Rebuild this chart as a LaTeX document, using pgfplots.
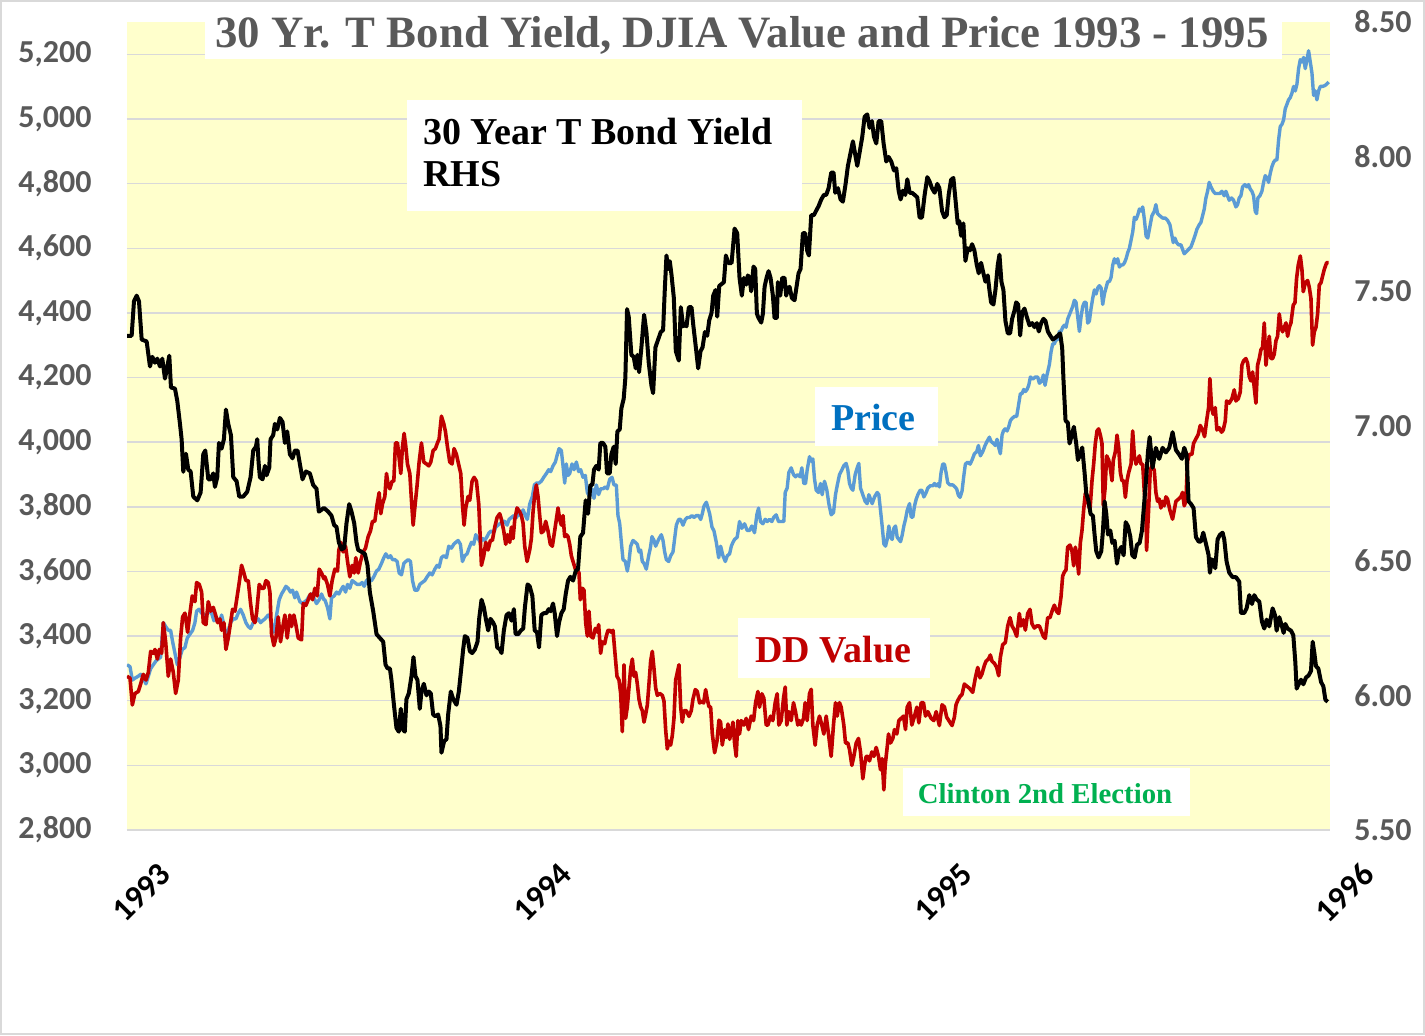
\documentclass[border=0pt]{standalone}
\usepackage{fontspec}
\setmainfont{Liberation Serif}
\newfontfamily\carlito{Carlito}
\usepackage{pgfplots}
\pgfplotsset{compat=1.18}
\definecolor{plotbg}{HTML}{FFFFCC}
\definecolor{gridc}{HTML}{D9D9D9}
\definecolor{tickgray}{HTML}{595959}
\definecolor{bluel}{HTML}{5B9BD5}
\definecolor{redl}{HTML}{C00000}
\definecolor{pricebl}{HTML}{0070C0}
\definecolor{greent}{HTML}{00B050}
\newcommand\ticfont{\carlito\bfseries\fontsize{16}{18}\selectfont}
\newcommand\xticfont{\carlito\bfseries\fontsize{16.5}{18}\selectfont}
\begin{document}
\begin{tikzpicture}
\path[use as bounding box, fill=white] (-63.5pt,-102.5pt) rectangle (649pt,415pt);
\draw[gridc, line width=1pt] (-63pt,-102pt) rectangle (648.5pt,414.5pt);
\begin{axis}[
  at={(0,0)}, anchor=south west,
  scale only axis, width=601.5pt, height=404pt,
  xmin=1993, xmax=1996, ymin=2800, ymax=5300,
  axis background/.style={fill=plotbg},
  axis line style={draw=none},
  major tick length=0pt,
  xtick={1993,1994,1995,1996}, xticklabels={1993,1994,1995,1996},
  ytick={2800,3000,3200,3400,3600,3800,4000,4200,4400,4600,4800,5000,5200},
  ymajorgrids, grid style={gridc, line width=0.7pt},
  scaled y ticks=false,
  /pgf/number format/assume math mode=true,
  yticklabel style={font=\ticfont, text=tickgray, xshift=-14.2pt},
  xticklabel style={font=\xticfont, text=black, rotate=45, anchor=center, xshift=-17pt, yshift=-27.2pt},
]
% Price (blue)
\addplot[bluel, line width=1.7pt, line join=round] coordinates {
(1993.0000,3311.3) (1993.0075,3305.4) (1993.0133,3263.9) (1993.0199,3269.9) (1993.0282,3275.8) (1993.0341,3281.7) (1993.0407,3269.9) (1993.0473,3252.1) (1993.0532,3275.8) (1993.0590,3299.4) (1993.0656,3311.3) (1993.0723,3323.1) (1993.0781,3329.0) (1993.0839,3334.9) (1993.0905,3441.5) (1993.0964,3429.6) (1993.1030,3417.8) (1993.1088,3417.8) (1993.1138,3382.3) (1993.1196,3346.8) (1993.1255,3311.3) (1993.1321,3334.9) (1993.1379,3358.6) (1993.1445,3364.5) (1993.1503,3394.1) (1993.1570,3405.9) (1993.1636,3417.8) (1993.1694,3441.5) (1993.1736,3477.0) (1993.1794,3482.9) (1993.1861,3471.0) (1993.1919,3465.1) (1993.1985,3465.1) (1993.2052,3477.0) (1993.2110,3471.0) (1993.2168,3447.4) (1993.2234,3453.3) (1993.2301,3441.5) (1993.2359,3465.1) (1993.2417,3435.5) (1993.2467,3394.1) (1993.2525,3417.8) (1993.2583,3441.5) (1993.2650,3453.3) (1993.2716,3453.3) (1993.2774,3471.0) (1993.2832,3482.9) (1993.2899,3465.1) (1993.2965,3441.5) (1993.3024,3429.6) (1993.3082,3423.7) (1993.3148,3441.5) (1993.3215,3447.4) (1993.3273,3453.3) (1993.3331,3441.5) (1993.3381,3447.4) (1993.3439,3453.3) (1993.3481,3459.2) (1993.3522,3465.1) (1993.3564,3459.2) (1993.3605,3435.5) (1993.3663,3411.9) (1993.3730,3465.1) (1993.3796,3512.5) (1993.3854,3530.2) (1993.3912,3542.0) (1993.3962,3553.9) (1993.4020,3548.0) (1993.4078,3536.1) (1993.4128,3542.0) (1993.4186,3518.4) (1993.4228,3536.1) (1993.4311,3506.5) (1993.4377,3500.6) (1993.4436,3506.5) (1993.4494,3512.5) (1993.4544,3524.3) (1993.4602,3530.2) (1993.4660,3518.4) (1993.4726,3500.6) (1993.4793,3512.5) (1993.4851,3530.2) (1993.4909,3512.5)
(1993.4934,3512.5) (1993.5000,3488.8) (1993.5059,3453.3) (1993.5100,3518.4) (1993.5166,3524.3) (1993.5225,3536.1) (1993.5283,3530.2) (1993.5333,3542.0) (1993.5391,3553.9) (1993.5450,3536.1) (1993.5500,3559.8) (1993.5557,3548.0) (1993.5615,3571.6) (1993.5681,3565.7) (1993.5740,3559.8) (1993.5806,3559.8) (1993.5865,3565.7) (1993.5915,3553.9) (1993.5972,3571.6) (1993.6031,3577.5) (1993.6097,3571.6) (1993.6155,3583.5) (1993.6222,3601.2) (1993.6280,3607.1) (1993.6346,3624.9) (1993.6405,3642.6) (1993.6455,3654.5) (1993.6513,3642.6) (1993.6571,3648.5) (1993.6621,3636.7) (1993.6679,3636.7) (1993.6737,3630.8) (1993.6787,3595.3) (1993.6845,3589.4) (1993.6904,3624.9) (1993.6953,3630.8) (1993.7012,3636.7) (1993.7070,3630.8) (1993.7120,3571.6) (1993.7177,3542.0) (1993.7244,3542.0) (1993.7302,3559.8) (1993.7360,3565.7) (1993.7426,3571.6) (1993.7485,3583.5) (1993.7551,3595.3) (1993.7609,3589.4) (1993.7676,3607.1) (1993.7734,3618.9) (1993.7784,3613.0) (1993.7841,3642.6) (1993.7900,3648.5) (1993.7966,3642.6) (1993.8024,3678.1) (1993.8091,3672.2) (1993.8149,3684.1) (1993.8199,3690.0) (1993.8257,3695.9) (1993.8315,3684.1) (1993.8365,3630.8) (1993.8423,3648.5) (1993.8481,3654.5) (1993.8531,3672.2) (1993.8589,3690.0) (1993.8647,3684.1) (1993.8697,3713.7) (1993.8755,3701.8) (1993.8813,3690.0) (1993.8863,3701.8) (1993.8921,3695.9) (1993.8979,3707.7) (1993.9029,3719.6) (1993.9087,3725.5) (1993.9146,3719.6) (1993.9196,3737.3) (1993.9254,3743.2) (1993.9312,3749.1) (1993.9362,3755.1) (1993.9420,3755.1) (1993.9478,3743.2) (1993.9528,3760.9) (1993.9586,3766.9) (1993.9644,3772.8) (1993.9710,3766.9) (1993.9768,3778.7) (1993.9818,3772.8) (1993.9877,3790.6) (1993.9934,3772.8) (1993.9984,3760.9)
(1994.0042,3808.3) (1994.0109,3832.0) (1994.0159,3867.5) (1994.0209,3873.4) (1994.0275,3873.4) (1994.0333,3879.3) (1994.0391,3891.1) (1994.0458,3903.0) (1994.0516,3914.8) (1994.0566,3908.9) (1994.0624,3926.7) (1994.0682,3938.5) (1994.0732,3962.2) (1994.0774,3979.9) (1994.0832,3974.0) (1994.0873,3926.7) (1994.0915,3873.4) (1994.0956,3932.6) (1994.0998,3897.0) (1994.1040,3903.0) (1994.1098,3932.6) (1994.1148,3914.8) (1994.1206,3938.5) (1994.1264,3908.9) (1994.1314,3914.8) (1994.1372,3891.1) (1994.1430,3897.0) (1994.1480,3843.8) (1994.1538,3832.0) (1994.1596,3855.7) (1994.1646,3826.1) (1994.1704,3867.5) (1994.1762,3837.9) (1994.1812,3855.7) (1994.1870,3855.7) (1994.1929,3861.6) (1994.1978,3855.7) (1994.2037,3885.2) (1994.2095,3891.1) (1994.2145,3867.5) (1994.2203,3867.5) (1994.2244,3772.8) (1994.2286,3749.1) (1994.2328,3690.0) (1994.2369,3636.7) (1994.2427,3630.8) (1994.2477,3601.2) (1994.2518,3630.8) (1994.2560,3678.1) (1994.2618,3695.9) (1994.2676,3690.0) (1994.2726,3684.1) (1994.2768,3660.4) (1994.2809,3666.3) (1994.2851,3630.8) (1994.2893,3624.9) (1994.2951,3607.1) (1994.3009,3648.5) (1994.3051,3672.2) (1994.3092,3707.7) (1994.3142,3695.9) (1994.3183,3678.1) (1994.3225,3690.0) (1994.3267,3701.8) (1994.3325,3713.6) (1994.3367,3695.9) (1994.3408,3660.4) (1994.3450,3636.7) (1994.3508,3630.8) (1994.3558,3648.5) (1994.3616,3660.4) (1994.3657,3701.8) (1994.3699,3743.2) (1994.3757,3760.9) (1994.3807,3760.9) (1994.3865,3743.2) (1994.3923,3760.9) (1994.3973,3766.9) (1994.4031,3766.9) (1994.4089,3772.8) (1994.4139,3766.9) (1994.4197,3772.8) (1994.4256,3772.8) (1994.4306,3760.9) (1994.4347,3778.7) (1994.4389,3802.4) (1994.4447,3814.2) (1994.4489,3796.5) (1994.4530,3778.7) (1994.4588,3737.3) (1994.4638,3725.5) (1994.4696,3690.0) (1994.4755,3642.6) (1994.4804,3678.1) (1994.4862,3648.5) (1994.4921,3630.8) (1994.4970,3648.5) (1994.5028,3654.5) (1994.5070,3678.1) (1994.5111,3690.0)
(1994.5151,3699.0) (1994.5217,3706.0) (1994.5275,3754.4) (1994.5333,3733.6) (1994.5400,3747.5) (1994.5466,3726.7) (1994.5525,3726.7) (1994.5583,3740.6) (1994.5649,3719.8) (1994.5707,3775.2) (1994.5749,3795.9) (1994.5799,3754.4) (1994.5857,3747.5) (1994.5915,3761.3) (1994.5965,3754.4) (1994.6023,3761.3) (1994.6081,3754.4) (1994.6131,3768.2) (1994.6189,3775.2) (1994.6247,3754.4) (1994.6314,3754.4) (1994.6380,3754.4) (1994.6414,3844.4) (1994.6463,3858.2) (1994.6505,3906.6) (1994.6563,3920.5) (1994.6621,3899.7) (1994.6671,3892.8) (1994.6729,3899.7) (1994.6787,3892.8) (1994.6829,3920.5) (1994.6879,3872.0) (1994.6921,3872.0) (1994.6962,3913.6) (1994.7020,3955.1) (1994.7062,3941.2) (1994.7103,3948.2) (1994.7145,3885.9) (1994.7187,3851.3) (1994.7245,3844.4) (1994.7295,3872.0) (1994.7336,3837.4) (1994.7394,3878.9) (1994.7453,3851.3) (1994.7502,3809.8) (1994.7561,3775.2) (1994.7619,3782.1) (1994.7668,3837.4) (1994.7710,3865.1) (1994.7768,3899.7) (1994.7826,3913.6) (1994.7876,3927.4) (1994.7934,3934.3) (1994.7976,3913.6) (1994.8018,3872.0) (1994.8059,3858.2) (1994.8101,3851.3) (1994.8159,3899.7) (1994.8209,3920.5) (1994.8250,3934.3) (1994.8292,3858.2) (1994.8350,3837.4) (1994.8408,3816.7) (1994.8458,3809.8) (1994.8500,3837.4) (1994.8542,3823.6) (1994.8583,3809.8) (1994.8641,3830.5) (1994.8708,3844.4) (1994.8749,3837.4) (1994.8791,3789.0) (1994.8832,3740.6) (1994.8874,3685.2) (1994.8916,3678.3) (1994.8957,3699.0) (1994.8999,3740.6) (1994.9040,3706.0) (1994.9082,3699.0) (1994.9124,3733.6) (1994.9165,3740.6) (1994.9207,3706.0) (1994.9248,3699.0) (1994.9290,3692.1) (1994.9332,3712.9) (1994.9373,3740.6) (1994.9415,3761.3) (1994.9456,3789.0) (1994.9514,3809.8) (1994.9556,3768.2) (1994.9598,3768.2) (1994.9639,3802.8) (1994.9681,3823.6) (1994.9722,3837.4) (1994.9780,3851.3) (1994.9822,3851.3) (1994.9872,3830.5) (1994.9930,3844.4) (1994.9971,3858.2) (1995.0030,3865.1) (1995.0096,3865.1) (1995.0137,3872.0) (1995.0179,3865.1) (1995.0237,3872.0)
(1995.0259,3861.4) (1995.0301,3906.3) (1995.0342,3932.0) (1995.0384,3932.0) (1995.0425,3906.3) (1995.0467,3874.2) (1995.0525,3867.8) (1995.0592,3867.8) (1995.0650,3861.4) (1995.0691,3854.9) (1995.0733,3835.7) (1995.0775,3829.3) (1995.0824,3848.5) (1995.0866,3893.5) (1995.0907,3932.0) (1995.0966,3938.4) (1995.1024,3932.0) (1995.1074,3944.8) (1995.1132,3964.1) (1995.1190,3970.5) (1995.1232,3989.7) (1995.1281,3957.6) (1995.1340,3970.5) (1995.1398,3989.7) (1995.1448,4002.6) (1995.1506,4015.4) (1995.1547,4002.6) (1995.1606,3996.1) (1995.1655,3989.7) (1995.1697,4009.0) (1995.1739,3983.3) (1995.1780,3964.1) (1995.1822,4021.8) (1995.1855,4034.7) (1995.1897,4041.1) (1995.1947,4034.7) (1995.1988,4047.5) (1995.2030,4066.8) (1995.2071,4073.2) (1995.2129,4079.6) (1995.2187,4079.6) (1995.2229,4111.7) (1995.2279,4150.2) (1995.2321,4150.2) (1995.2362,4163.1) (1995.2404,4156.6) (1995.2445,4163.1) (1995.2487,4175.9) (1995.2529,4201.6) (1995.2587,4195.2) (1995.2653,4201.6) (1995.2711,4201.6) (1995.2752,4182.3) (1995.2811,4188.7) (1995.2852,4208.0) (1995.2894,4175.9) (1995.2943,4208.0) (1995.3002,4240.1) (1995.3043,4278.6) (1995.3085,4304.3) (1995.3127,4304.3) (1995.3168,4317.1) (1995.3210,4317.1) (1995.3251,4342.8) (1995.3293,4342.8) (1995.3334,4355.6) (1995.3376,4362.0) (1995.3418,4355.6) (1995.3459,4381.3) (1995.3501,4394.1) (1995.3542,4407.0) (1995.3584,4419.8) (1995.3625,4439.1) (1995.3667,4432.6) (1995.3709,4387.7) (1995.3750,4342.8) (1995.3792,4387.7) (1995.3833,4419.8) (1995.3875,4432.6) (1995.3916,4432.6) (1995.3958,4368.4) (1995.4000,4374.8) (1995.4041,4413.4) (1995.4083,4445.4) (1995.4124,4471.1) (1995.4166,4458.3) (1995.4208,4477.5) (1995.4249,4484.0) (1995.4291,4477.5) (1995.4332,4426.2) (1995.4374,4458.3) (1995.4415,4477.5) (1995.4457,4496.8) (1995.4499,4496.8) (1995.4540,4509.6) (1995.4582,4548.1) (1995.4623,4567.4) (1995.4665,4554.6) (1995.4706,4567.4) (1995.4748,4541.7) (1995.4790,4548.1) (1995.4831,4548.1) (1995.4873,4554.6) (1995.4914,4567.4) (1995.4956,4586.6) (1995.4997,4599.5) (1995.5039,4625.2) (1995.5081,4650.8) (1995.5122,4695.8) (1995.5164,4689.3) (1995.5205,4702.2) (1995.5247,4721.4) (1995.5288,4715.0) (1995.5330,4727.8) (1995.5371,4689.3) (1995.5413,4638.0) (1995.5455,4631.6)
(1995.5559,4700.3) (1995.5617,4714.1) (1995.5658,4734.8) (1995.5700,4707.2) (1995.5758,4700.3) (1995.5825,4693.4) (1995.5891,4693.4) (1995.5949,4686.5) (1995.6008,4672.7) (1995.6049,4645.1) (1995.6091,4617.5) (1995.6133,4631.3) (1995.6174,4617.5) (1995.6224,4610.6) (1995.6282,4610.6) (1995.6323,4596.8) (1995.6365,4583.0) (1995.6423,4589.9) (1995.6473,4596.8) (1995.6531,4603.7) (1995.6573,4617.5) (1995.6631,4638.2) (1995.6681,4658.9) (1995.6739,4672.7) (1995.6780,4679.6) (1995.6822,4700.3) (1995.6864,4721.0) (1995.6905,4755.5) (1995.6947,4776.2) (1995.6988,4803.8) (1995.7030,4790.0) (1995.7088,4776.2) (1995.7138,4769.3) (1995.7196,4769.3) (1995.7254,4769.3) (1995.7304,4776.2) (1995.7362,4762.4) (1995.7404,4776.2) (1995.7445,4762.4) (1995.7487,4748.6) (1995.7545,4755.5) (1995.7595,4748.6) (1995.7653,4727.9) (1995.7695,4734.8) (1995.7736,4755.5) (1995.7778,4762.4) (1995.7820,4790.0) (1995.7878,4796.9) (1995.7928,4790.0) (1995.7969,4796.9) (1995.8011,4783.1) (1995.8052,4776.2) (1995.8094,4762.4) (1995.8136,4714.1) (1995.8169,4707.2) (1995.8202,4755.5) (1995.8252,4762.4) (1995.8302,4776.2) (1995.8344,4803.8) (1995.8385,4824.6) (1995.8427,4817.7) (1995.8468,4803.8) (1995.8510,4831.5) (1995.8552,4852.2) (1995.8593,4866.0) (1995.8635,4872.9) (1995.8676,4872.9) (1995.8718,4934.9) (1995.8759,4976.4) (1995.8801,4983.3) (1995.8843,4997.1) (1995.8884,5031.6) (1995.8926,5045.4) (1995.8967,5059.2) (1995.9009,5066.1) (1995.9051,5079.9) (1995.9092,5100.6) (1995.9134,5086.8) (1995.9175,5107.5) (1995.9217,5155.8) (1995.9259,5183.4) (1995.9300,5176.5) (1995.9342,5190.3) (1995.9383,5155.8) (1995.9425,5183.4) (1995.9466,5211.0) (1995.9508,5176.5) (1995.9550,5142.0) (1995.9591,5073.0) (1995.9633,5086.8) (1995.9674,5059.2) (1995.9716,5086.8) (1995.9758,5100.6) (1995.9816,5100.6) (1995.9874,5103.4) (1995.9916,5107.5) (1995.9966,5114.4)
};
% DD Value (red)
\addplot[redl, line width=1.8pt, line join=round] coordinates {
(1993.0000,3275.8) (1993.0075,3270.0) (1993.0133,3187.0) (1993.0199,3222.5) (1993.0282,3228.5) (1993.0341,3252.0) (1993.0407,3281.7) (1993.0473,3264.0) (1993.0532,3287.6) (1993.0590,3352.7) (1993.0656,3346.8) (1993.0698,3358.6) (1993.0756,3329.0) (1993.0806,3358.6) (1993.0864,3346.8) (1993.0905,3441.5) (1993.0964,3382.3) (1993.1030,3275.8) (1993.1088,3329.0) (1993.1155,3287.6) (1993.1213,3222.5) (1993.1279,3264.0) (1993.1337,3394.1) (1993.1387,3459.2) (1993.1445,3471.0) (1993.1512,3411.9) (1993.1570,3471.0) (1993.1628,3524.3) (1993.1694,3506.5) (1993.1736,3565.7) (1993.1802,3559.8) (1993.1861,3536.1) (1993.1902,3441.5) (1993.1969,3435.5) (1993.2027,3506.5) (1993.2085,3477.0) (1993.2151,3488.8) (1993.2210,3465.1) (1993.2259,3441.5) (1993.2317,3453.3) (1993.2359,3417.8) (1993.2417,3441.5) (1993.2467,3358.6) (1993.2525,3394.1) (1993.2583,3441.5) (1993.2633,3482.9) (1993.2691,3477.0) (1993.2749,3524.3) (1993.2799,3565.7) (1993.2857,3619.0) (1993.2916,3595.3) (1993.2965,3571.6) (1993.3024,3571.6) (1993.3082,3500.6) (1993.3132,3453.3) (1993.3190,3441.5) (1993.3231,3471.0) (1993.3298,3559.8) (1993.3356,3548.0) (1993.3414,3548.0) (1993.3464,3571.6) (1993.3522,3565.7) (1993.3564,3536.1) (1993.3605,3405.9) (1993.3663,3370.5) (1993.3713,3394.1) (1993.3771,3459.2) (1993.3829,3382.3) (1993.3879,3423.7) (1993.3937,3465.1) (1993.3995,3394.1) (1993.4062,3465.1) (1993.4103,3429.6) (1993.4162,3465.1) (1993.4211,3435.5) (1993.4270,3394.1) (1993.4353,3388.2) (1993.4394,3500.6) (1993.4461,3494.7) (1993.4519,3512.5) (1993.4577,3530.2) (1993.4627,3512.5) (1993.4685,3548.0) (1993.4743,3524.3) (1993.4793,3607.1) (1993.4851,3595.3) (1993.4909,3577.5)
(1993.4934,3583.5) (1993.5000,3559.8) (1993.5059,3524.3) (1993.5116,3571.6) (1993.5183,3607.1) (1993.5250,3601.2) (1993.5283,3666.3) (1993.5333,3690.0) (1993.5391,3660.4) (1993.5450,3678.1) (1993.5500,3630.8) (1993.5557,3583.5) (1993.5615,3618.9) (1993.5665,3595.3) (1993.5706,3642.6) (1993.5765,3595.3) (1993.5823,3630.8) (1993.5890,3660.4) (1993.5948,3672.2) (1993.6014,3707.7) (1993.6072,3725.5) (1993.6122,3755.1) (1993.6180,3755.1) (1993.6238,3808.3) (1993.6288,3843.8) (1993.6330,3778.7) (1993.6371,3808.3) (1993.6430,3832.0) (1993.6471,3903.0) (1993.6513,3867.5) (1993.6554,3855.7) (1993.6612,3879.3) (1993.6654,3879.3) (1993.6695,3997.7) (1993.6745,3997.7) (1993.6787,3950.3) (1993.6828,3903.0) (1993.6870,3985.8) (1993.6911,4027.2) (1993.6953,3985.8) (1993.6994,3932.6) (1993.7053,3903.0) (1993.7094,3820.1) (1993.7136,3743.2) (1993.7177,3796.5) (1993.7235,3867.5) (1993.7285,3938.5) (1993.7343,3997.7) (1993.7401,3938.5) (1993.7468,3932.6) (1993.7526,3926.7) (1993.7576,3938.5) (1993.7634,3974.0) (1993.7692,3979.9) (1993.7742,3997.7) (1993.7783,4009.5) (1993.7841,4080.5) (1993.7900,4056.8) (1993.7941,4033.2) (1993.7991,3985.8) (1993.8049,3938.5) (1993.8107,3932.6) (1993.8157,3979.9) (1993.8215,3962.2) (1993.8257,3938.5) (1993.8323,3903.0) (1993.8365,3808.3) (1993.8406,3743.2) (1993.8448,3796.5) (1993.8506,3832.0) (1993.8548,3820.1) (1993.8606,3879.3) (1993.8656,3891.1) (1993.8714,3879.3) (1993.8772,3808.3) (1993.8839,3618.9) (1993.8897,3648.5) (1993.8947,3690.0) (1993.9004,3666.3) (1993.9063,3695.9) (1993.9112,3695.9) (1993.9171,3737.3) (1993.9229,3766.9) (1993.9295,3778.7) (1993.9337,3760.9) (1993.9395,3725.5) (1993.9445,3684.1) (1993.9487,3713.7) (1993.9545,3690.0) (1993.9586,3737.3) (1993.9628,3701.8) (1993.9670,3760.9) (1993.9728,3796.5) (1993.9794,3784.6) (1993.9836,3772.8) (1993.9877,3749.2) (1993.9918,3678.1) (1993.9977,3630.8)
(1994.0042,3666.3) (1994.0084,3701.8) (1994.0126,3784.6) (1994.0167,3837.9) (1994.0209,3867.5) (1994.0250,3832.0) (1994.0292,3772.8) (1994.0333,3719.6) (1994.0391,3725.5) (1994.0441,3755.1) (1994.0499,3725.5) (1994.0557,3684.1) (1994.0607,3678.1) (1994.0665,3725.5) (1994.0707,3760.9) (1994.0749,3796.5) (1994.0790,3760.9) (1994.0832,3743.2) (1994.0873,3772.8) (1994.0915,3707.7) (1994.0956,3713.6) (1994.0998,3707.7) (1994.1040,3684.1) (1994.1081,3648.5) (1994.1123,3630.8) (1994.1181,3607.1) (1994.1222,3607.1) (1994.1272,3595.3) (1994.1305,3512.5) (1994.1355,3548.0) (1994.1397,3542.0) (1994.1438,3441.5) (1994.1480,3400.0) (1994.1521,3476.9) (1994.1563,3400.0) (1994.1621,3394.1) (1994.1679,3423.7) (1994.1729,3411.9) (1994.1762,3435.5) (1994.1812,3346.8) (1994.1854,3382.3) (1994.1912,3376.4) (1994.1953,3400.0) (1994.1995,3417.8) (1994.2037,3417.8) (1994.2078,3411.9) (1994.2120,3417.8) (1994.2161,3358.6) (1994.2219,3275.8) (1994.2269,3264.0) (1994.2311,3222.5) (1994.2352,3104.2) (1994.2394,3311.1) (1994.2435,3145.6) (1994.2477,3181.1) (1994.2518,3240.3) (1994.2560,3299.4) (1994.2602,3329.0) (1994.2643,3275.8) (1994.2685,3287.6) (1994.2726,3252.1) (1994.2768,3204.8) (1994.2809,3181.1) (1994.2851,3169.3) (1994.2893,3133.8) (1994.2934,3157.4) (1994.2976,3187.0) (1994.3017,3252.1) (1994.3059,3323.1) (1994.3100,3352.7) (1994.3142,3299.4) (1994.3183,3240.3) (1994.3225,3216.6) (1994.3283,3222.5) (1994.3350,3216.6) (1994.3391,3198.9) (1994.3433,3110.1) (1994.3474,3050.9) (1994.3516,3074.6) (1994.3557,3062.7) (1994.3599,3092.3) (1994.3640,3145.6) (1994.3682,3264.0) (1994.3724,3287.6) (1994.3765,3311.1) (1994.3807,3181.1) (1994.3848,3133.8) (1994.3890,3169.3) (1994.3948,3169.3) (1994.4014,3151.5) (1994.4072,3169.3) (1994.4114,3204.8) (1994.4172,3234.4) (1994.4222,3228.4) (1994.4280,3192.9) (1994.4338,3198.9) (1994.4380,3192.9) (1994.4430,3234.4) (1994.4471,3204.8) (1994.4513,3181.1) (1994.4554,3181.1) (1994.4596,3098.3) (1994.4654,3039.1) (1994.4712,3074.6) (1994.4762,3139.7) (1994.4803,3133.8) (1994.4845,3062.7) (1994.4903,3110.1) (1994.4945,3086.4) (1994.4986,3127.9) (1994.5028,3080.5) (1994.5070,3104.2) (1994.5111,3133.8)
(1994.5151,3069.3) (1994.5192,3027.8) (1994.5234,3138.5) (1994.5275,3097.0) (1994.5317,3138.5) (1994.5384,3124.7) (1994.5442,3145.4) (1994.5500,3110.8) (1994.5566,3152.4) (1994.5625,3138.5) (1994.5675,3193.9) (1994.5733,3228.5) (1994.5774,3180.0) (1994.5832,3221.6) (1994.5882,3207.7) (1994.5940,3124.7) (1994.5982,3124.7) (1994.6048,3152.4) (1994.6106,3138.5) (1994.6164,3193.9) (1994.6214,3221.6) (1994.6256,3124.7) (1994.6314,3138.5) (1994.6372,3207.7) (1994.6414,3242.3) (1994.6455,3124.7) (1994.6505,3166.2) (1994.6563,3138.5) (1994.6621,3193.9) (1994.6671,3166.2) (1994.6729,3124.7) (1994.6771,3138.5) (1994.6812,3124.7) (1994.6871,3145.4) (1994.6912,3193.9) (1994.6962,3138.5) (1994.7020,3221.6) (1994.7062,3235.4) (1994.7103,3124.7) (1994.7161,3062.4) (1994.7211,3124.7) (1994.7270,3152.4) (1994.7328,3124.7) (1994.7378,3097.0) (1994.7436,3152.4) (1994.7494,3097.0) (1994.7560,3027.8) (1994.7618,3124.7) (1994.7668,3193.9) (1994.7710,3152.4) (1994.7768,3193.9) (1994.7810,3180.0) (1994.7876,3124.7) (1994.7918,3069.3) (1994.7976,3069.3) (1994.8018,3048.6) (1994.8076,2999.9) (1994.8126,3027.8) (1994.8184,3069.3) (1994.8242,3083.2) (1994.8292,3041.6) (1994.8350,2958.6) (1994.8392,2999.9) (1994.8433,3027.8) (1994.8475,3027.8) (1994.8516,3013.9) (1994.8575,3041.6) (1994.8625,3027.8) (1994.8683,3055.5) (1994.8741,3027.8) (1994.8791,2986.3) (1994.8832,3020.9) (1994.8874,2924.0) (1994.8907,2999.9) (1994.8957,3055.5) (1994.8990,3097.0) (1994.9040,3069.3) (1994.9098,3083.2) (1994.9140,3110.8) (1994.9198,3097.0) (1994.9248,3138.5) (1994.9306,3145.4) (1994.9364,3152.4) (1994.9414,3110.8) (1994.9456,3180.0) (1994.9514,3193.9) (1994.9572,3124.7) (1994.9639,3152.4) (1994.9697,3180.0) (1994.9747,3131.6) (1994.9805,3193.9) (1994.9863,3193.9) (1994.9913,3152.4) (1994.9971,3166.2) (1995.0054,3145.4) (1995.0120,3138.5) (1995.0179,3166.2)
(1995.0259,3123.2) (1995.0326,3187.4) (1995.0384,3181.0) (1995.0442,3148.9) (1995.0508,3136.0) (1995.0575,3123.2) (1995.0633,3148.9) (1995.0674,3187.4) (1995.0716,3200.2) (1995.0774,3213.1) (1995.0824,3219.5) (1995.0882,3251.6) (1995.0940,3245.2) (1995.1007,3238.8) (1995.1090,3225.9) (1995.1156,3270.9) (1995.1215,3303.0) (1995.1273,3270.9) (1995.1323,3283.7) (1995.1381,3309.4) (1995.1422,3322.2) (1995.1481,3328.6) (1995.1530,3341.4) (1995.1572,3322.2) (1995.1630,3315.8) (1995.1688,3303.0) (1995.1738,3277.3) (1995.1780,3335.0) (1995.1838,3373.5) (1995.1904,3380.0) (1995.1963,3431.3) (1995.2021,3457.0) (1995.2071,3431.3) (1995.2129,3418.5) (1995.2187,3399.2) (1995.2253,3469.8) (1995.2295,3431.3) (1995.2353,3450.6) (1995.2403,3418.5) (1995.2461,3469.8) (1995.2519,3482.7) (1995.2569,3437.8) (1995.2627,3424.9) (1995.2685,3431.3) (1995.2752,3431.3) (1995.2793,3418.5) (1995.2851,3399.2) (1995.2901,3392.8) (1995.2959,3457.0) (1995.3017,3457.0) (1995.3084,3482.7) (1995.3125,3495.5) (1995.3184,3476.3) (1995.3234,3469.8) (1995.3292,3521.2) (1995.3333,3585.4) (1995.3375,3598.2) (1995.3416,3604.6) (1995.3458,3675.2) (1995.3516,3681.6) (1995.3566,3662.4) (1995.3608,3617.5) (1995.3649,3675.2) (1995.3691,3649.5) (1995.3732,3591.8) (1995.3774,3688.1) (1995.3815,3726.6) (1995.3857,3790.8) (1995.3899,3842.1) (1995.3940,3829.3) (1995.3982,3803.6) (1995.4015,3790.8) (1995.4065,3880.6) (1995.4106,3932.0) (1995.4148,3996.1) (1995.4190,4034.7) (1995.4231,4041.1) (1995.4273,4021.8) (1995.4314,3996.1) (1995.4347,3803.6) (1995.4389,3855.0) (1995.4431,3957.6) (1995.4481,3944.8) (1995.4522,3919.1) (1995.4564,3880.6) (1995.4597,3944.8) (1995.4647,3970.5) (1995.4689,4021.8) (1995.4730,3983.3) (1995.4772,3906.3) (1995.4813,3880.6) (1995.4855,3880.6) (1995.4897,3829.3) (1995.4938,3880.6) (1995.4980,3906.3) (1995.5038,3932.0) (1995.5079,4034.7) (1995.5121,3957.6) (1995.5163,3932.0) (1995.5204,3944.8) (1995.5246,3957.6) (1995.5287,3932.0) (1995.5329,3932.0) (1995.5371,3842.1) (1995.5412,3777.9)
(1995.5426,3665.0) (1995.5476,3789.3) (1995.5517,3913.6) (1995.5559,3927.4) (1995.5617,3913.6) (1995.5658,3844.6) (1995.5700,3817.0) (1995.5742,3823.9) (1995.5783,3796.3) (1995.5825,3817.0) (1995.5866,3803.1) (1995.5908,3830.8) (1995.5949,3823.9) (1995.6008,3789.3) (1995.6074,3761.7) (1995.6116,3789.3) (1995.6157,3817.0) (1995.6224,3823.9) (1995.6282,3830.8) (1995.6323,3844.6) (1995.6365,3803.1) (1995.6406,3817.0) (1995.6448,3941.2) (1995.6490,3962.0) (1995.6556,3962.0) (1995.6598,3996.4) (1995.6656,4010.2) (1995.6714,4024.0) (1995.6764,4051.6) (1995.6822,4037.8) (1995.6872,4017.1) (1995.6922,4065.4) (1995.6972,4106.8) (1995.7005,4196.5) (1995.7047,4106.8) (1995.7088,4086.1) (1995.7138,4106.8) (1995.7180,4037.8) (1995.7238,4044.7) (1995.7296,4030.9) (1995.7338,4037.8) (1995.7388,4065.4) (1995.7421,4127.5) (1995.7487,4120.6) (1995.7554,4134.4) (1995.7612,4162.0) (1995.7654,4127.5) (1995.7712,4134.4) (1995.7762,4155.1) (1995.7803,4237.9) (1995.7845,4251.7) (1995.7903,4258.6) (1995.7945,4244.8) (1995.7986,4203.4) (1995.8028,4189.6) (1995.8070,4217.2) (1995.8111,4168.9) (1995.8153,4120.6) (1995.8194,4237.9) (1995.8236,4258.6) (1995.8278,4286.2) (1995.8319,4293.1) (1995.8361,4369.0) (1995.8402,4237.9) (1995.8444,4286.2) (1995.8486,4327.6) (1995.8527,4258.6) (1995.8569,4258.6) (1995.8610,4272.4) (1995.8652,4313.8) (1995.8693,4327.6) (1995.8735,4396.6) (1995.8777,4355.3) (1995.8818,4341.5) (1995.8860,4355.3) (1995.8901,4369.0) (1995.8943,4327.6) (1995.8985,4355.3) (1995.9026,4369.0) (1995.9084,4424.3) (1995.9126,4431.2) (1995.9167,4507.1) (1995.9209,4548.5) (1995.9259,4576.1) (1995.9300,4534.7) (1995.9334,4465.7) (1995.9383,4493.3) (1995.9442,4500.2) (1995.9483,4479.5) (1995.9525,4444.9) (1995.9566,4300.1) (1995.9608,4341.5) (1995.9650,4355.3) (1995.9691,4396.6) (1995.9733,4486.3) (1995.9775,4493.3) (1995.9816,4514.0) (1995.9858,4534.7) (1995.9916,4555.4) (1995.9966,4555.4)
};
\end{axis}
\begin{axis}[
  at={(0,0)}, anchor=south west,
  scale only axis, width=601.5pt, height=404pt,
  xmin=1993, xmax=1996, ymin=5.5, ymax=8.5,
  axis y line*=right, hide x axis,
  axis line style={draw=none},
  major tick length=0pt,
  ytick={5.5,6,6.5,7,7.5,8,8.5},
  /pgf/number format/assume math mode=true,
  yticklabel style={font=\ticfont, text=tickgray, xshift=8.7pt,
    /pgf/number format/.cd, fixed, fixed zerofill, precision=2},
]
\addplot[black, line width=2pt, line join=round] coordinates {
(1993.0000,7.335) (1993.0116,7.335) (1993.0174,7.463) (1993.0241,7.484) (1993.0299,7.463) (1993.0366,7.321) (1993.0490,7.314) (1993.0573,7.221) (1993.0631,7.257) (1993.0698,7.235) (1993.0756,7.250) (1993.0822,7.221) (1993.0880,7.250) (1993.0947,7.176) (1993.0989,7.207) (1993.1055,7.261) (1993.1096,7.143) (1993.1196,7.139) (1993.1254,7.093) (1993.1321,7.008) (1993.1362,6.951) (1993.1404,6.830) (1993.1470,6.897) (1993.1528,6.838) (1993.1587,6.831) (1993.1653,6.738) (1993.1753,6.724) (1993.1836,6.753) (1993.1902,6.895) (1993.1952,6.909) (1993.2027,6.802) (1993.2085,6.802) (1993.2151,6.824) (1993.2193,6.774) (1993.2251,6.810) (1993.2293,6.937) (1993.2359,6.916) (1993.2417,6.951) (1993.2467,7.061) (1993.2525,7.008) (1993.2592,6.966) (1993.2650,6.810) (1993.2733,6.795) (1993.2799,6.738) (1993.2899,6.738) (1993.2999,6.756) (1993.3082,6.810) (1993.3148,6.909) (1993.3215,6.923) (1993.3248,6.951) (1993.3281,6.866) (1993.3314,6.810) (1993.3381,6.802) (1993.3439,6.852) (1993.3480,6.817) (1993.3547,6.845) (1993.3580,6.951) (1993.3646,6.966) (1993.3688,7.008) (1993.3746,6.987) (1993.3813,7.030) (1993.3879,7.015) (1993.3937,6.937) (1993.3995,6.980) (1993.4062,6.895) (1993.4128,6.880) (1993.4186,6.909) (1993.4253,6.909) (1993.4311,6.859) (1993.4377,6.802) (1993.4460,6.831) (1993.4560,6.824) (1993.4643,6.781) (1993.4726,6.767) (1993.4784,6.682) (1993.4851,6.689) (1993.4909,6.696)
(1993.4934,6.693) (1993.5017,6.682) (1993.5100,6.667) (1993.5166,6.632) (1993.5225,6.625) (1993.5283,6.568) (1993.5350,6.542) (1993.5416,6.547) (1993.5474,6.639) (1993.5541,6.710) (1993.5599,6.682) (1993.5666,6.639) (1993.5723,6.568) (1993.5765,6.540) (1993.5848,6.533) (1993.5932,6.525) (1993.5998,6.483) (1993.6056,6.383) (1993.6140,6.312) (1993.6223,6.227) (1993.6306,6.213) (1993.6389,6.199) (1993.6447,6.114) (1993.6497,6.100) (1993.6556,6.100) (1993.6595,6.057) (1993.6662,5.957) (1993.6720,5.879) (1993.6778,5.865) (1993.6828,5.950) (1993.6886,5.872) (1993.6927,5.865) (1993.6969,5.986) (1993.7027,6.007) (1993.7094,6.071) (1993.7144,6.142) (1993.7194,6.071) (1993.7243,6.057) (1993.7302,5.950) (1993.7343,6.014) (1993.7402,6.043) (1993.7468,6.000) (1993.7526,6.014) (1993.7576,6.007) (1993.7634,5.929) (1993.7692,5.922) (1993.7759,5.929) (1993.7817,5.886) (1993.7842,5.787) (1993.7909,5.830) (1993.7967,5.837) (1993.8009,5.929) (1993.8075,6.014) (1993.8134,5.986) (1993.8217,5.965) (1993.8275,6.014) (1993.8325,6.085) (1993.8383,6.170) (1993.8425,6.220) (1993.8491,6.213) (1993.8550,6.164) (1993.8608,6.157) (1993.8674,6.170) (1993.8741,6.199) (1993.8782,6.284) (1993.8841,6.355) (1993.8899,6.327) (1993.8949,6.284) (1993.9007,6.241) (1993.9065,6.284) (1993.9132,6.270) (1993.9174,6.256) (1993.9232,6.178) (1993.9298,6.171) (1993.9340,6.157) (1993.9398,6.241) (1993.9465,6.298) (1993.9523,6.305) (1993.9590,6.277) (1993.9648,6.320) (1993.9690,6.227) (1993.9756,6.227) (1993.9823,6.241) (1993.9881,6.248) (1993.9923,6.327) (1993.9989,6.412)
(1994.0042,6.405) (1994.0109,6.369) (1994.0167,6.241) (1994.0225,6.234) (1994.0275,6.178) (1994.0333,6.298) (1994.0391,6.305) (1994.0458,6.305) (1994.0516,6.320) (1994.0566,6.312) (1994.0624,6.341) (1994.0666,6.305) (1994.0724,6.220) (1994.0774,6.270) (1994.0832,6.305) (1994.0891,6.320) (1994.0941,6.376) (1994.0999,6.426) (1994.1057,6.440) (1994.1124,6.426) (1994.1190,6.462) (1994.1248,6.469) (1994.1305,6.589) (1994.1372,6.603) (1994.1438,6.724) (1994.1497,6.674) (1994.1555,6.781) (1994.1605,6.781) (1994.1646,6.838) (1994.1704,6.852) (1994.1763,6.838) (1994.1804,6.937) (1994.1871,6.937) (1994.1929,6.923) (1994.1971,6.824) (1994.2037,6.824) (1994.2079,6.895) (1994.2137,6.923) (1994.2187,6.859) (1994.2229,6.980) (1994.2287,6.987) (1994.2328,7.065) (1994.2386,7.101) (1994.2428,7.179) (1994.2470,7.434) (1994.2512,7.406) (1994.2578,7.264) (1994.2636,7.257) (1994.2686,7.214) (1994.2728,7.264) (1994.2770,7.200) (1994.2828,7.292) (1994.2895,7.413) (1994.2953,7.349) (1994.3011,7.235) (1994.3078,7.150) (1994.3120,7.122) (1994.3178,7.292) (1994.3245,7.321) (1994.3311,7.349) (1994.3369,7.356) (1994.3411,7.505) (1994.3453,7.633) (1994.3494,7.583) (1994.3536,7.612) (1994.3578,7.562) (1994.3636,7.477) (1994.3686,7.278) (1994.3761,7.243) (1994.3811,7.441) (1994.3869,7.370) (1994.3911,7.377) (1994.3953,7.370) (1994.4011,7.441) (1994.4078,7.441) (1994.4120,7.377) (1994.4186,7.292) (1994.4244,7.214) (1994.4303,7.278) (1994.4353,7.292) (1994.4411,7.349) (1994.4469,7.335) (1994.4519,7.392) (1994.4577,7.420) (1994.4619,7.484) (1994.4677,7.505) (1994.4719,7.406) (1994.4769,7.520) (1994.4827,7.527) (1994.4885,7.534) (1994.4935,7.633) (1994.4994,7.605) (1994.5077,7.605) (1994.5135,7.704)
(1994.5151,7.733) (1994.5217,7.716) (1994.5275,7.550) (1994.5333,7.484) (1994.5383,7.550) (1994.5442,7.525) (1994.5483,7.559) (1994.5525,7.550) (1994.5566,7.500) (1994.5624,7.592) (1994.5666,7.583) (1994.5708,7.417) (1994.5750,7.401) (1994.5816,7.384) (1994.5858,7.417) (1994.5900,7.517) (1994.5949,7.550) (1994.5999,7.575) (1994.6049,7.550) (1994.6107,7.484) (1994.6148,7.401) (1994.6206,7.401) (1994.6231,7.534) (1994.6290,7.484) (1994.6340,7.550) (1994.6398,7.550) (1994.6439,7.484) (1994.6481,7.509) (1994.6523,7.517) (1994.6581,7.475) (1994.6647,7.467) (1994.6697,7.517) (1994.6747,7.567) (1994.6797,7.583) (1994.6855,7.716) (1994.6913,7.716) (1994.6963,7.650) (1994.7005,7.633) (1994.7063,7.783) (1994.7130,7.783) (1994.7188,7.800) (1994.7246,7.816) (1994.7313,7.841) (1994.7379,7.858) (1994.7437,7.858) (1994.7496,7.883) (1994.7562,7.941) (1994.7620,7.941) (1994.7662,7.866) (1994.7729,7.883) (1994.7795,7.841) (1994.7853,7.833) (1994.7920,7.899) (1994.7978,7.966) (1994.8045,8.015) (1994.8103,8.057) (1994.8161,8.007) (1994.8211,7.966) (1994.8269,8.015) (1994.8336,8.074) (1994.8394,8.148) (1994.8460,8.157) (1994.8518,8.107) (1994.8577,8.132) (1994.8627,8.074) (1994.8685,8.049) (1994.8743,8.132) (1994.8809,8.132) (1994.8868,8.049) (1994.8934,7.982) (1994.8992,7.999) (1994.9059,7.982) (1994.9126,7.949) (1994.9184,7.957) (1994.9242,7.874) (1994.9292,7.841) (1994.9350,7.874) (1994.9409,7.858) (1994.9459,7.916) (1994.9517,7.866) (1994.9575,7.866) (1994.9642,7.858) (1994.9708,7.849) (1994.9766,7.774) (1994.9825,7.774) (1994.9891,7.858) (1994.9958,7.924) (1995.0016,7.907) (1995.0074,7.883) (1995.0141,7.866) (1995.0207,7.899)
(1995.0259,7.883) (1995.0326,7.798) (1995.0384,7.775) (1995.0442,7.783) (1995.0492,7.860) (1995.0550,7.914) (1995.0608,7.921) (1995.0658,7.844) (1995.0716,7.752) (1995.0758,7.760) (1995.0800,7.706) (1995.0858,7.752) (1995.0908,7.613) (1995.0966,7.660) (1995.1024,7.652) (1995.1074,7.675) (1995.1132,7.652) (1995.1191,7.598) (1995.1240,7.567) (1995.1299,7.606) (1995.1357,7.567) (1995.1407,7.536) (1995.1465,7.559) (1995.1507,7.505) (1995.1548,7.459) (1995.1607,7.451) (1995.1657,7.505) (1995.1715,7.598) (1995.1757,7.636) (1995.1806,7.536) (1995.1856,7.505) (1995.1906,7.390) (1995.1965,7.344) (1995.2023,7.344) (1995.2073,7.398) (1995.2131,7.428) (1995.2173,7.459) (1995.2223,7.451) (1995.2273,7.336) (1995.2323,7.421) (1995.2381,7.436) (1995.2439,7.405) (1995.2506,7.374) (1995.2572,7.382) (1995.2631,7.367) (1995.2689,7.382) (1995.2739,7.351) (1995.2797,7.382) (1995.2855,7.398) (1995.2905,7.390) (1995.2964,7.351) (1995.3022,7.336) (1995.3088,7.321) (1995.3155,7.328) (1995.3213,7.336) (1995.3271,7.344) (1995.3321,7.290) (1995.3355,7.167) (1995.3405,7.020) (1995.3463,7.012) (1995.3505,6.935) (1995.3563,6.966) (1995.3613,6.997) (1995.3671,6.935) (1995.3713,6.874) (1995.3755,6.889) (1995.3821,6.920) (1995.3879,6.828) (1995.3921,6.751) (1995.3979,6.720) (1995.4029,6.674) (1995.4088,6.666) (1995.4129,6.597) (1995.4171,6.535) (1995.4229,6.512) (1995.4296,6.535) (1995.4338,6.612) (1995.4379,6.720) (1995.4421,6.674) (1995.4463,6.597) (1995.4521,6.612) (1995.4571,6.566) (1995.4629,6.574) (1995.4687,6.489) (1995.4737,6.535) (1995.4796,6.551) (1995.4854,6.520) (1995.4904,6.643) (1995.4962,6.628) (1995.5020,6.589) (1995.5070,6.520) (1995.5128,6.512) (1995.5187,6.559) (1995.5253,6.566) (1995.5311,6.612) (1995.5353,6.689) (1995.5403,6.781) (1995.5461,6.905) (1995.5503,6.959)
(1995.5575,6.845) (1995.5658,6.919) (1995.5741,6.878) (1995.5825,6.919) (1995.5908,6.902) (1995.5991,6.919) (1995.6074,6.977) (1995.6157,6.911) (1995.6240,6.894) (1995.6307,6.878) (1995.6365,6.919) (1995.6423,6.894) (1995.6473,6.720) (1995.6531,6.711) (1995.6598,6.695) (1995.6656,6.588) (1995.6723,6.571) (1995.6781,6.571) (1995.6839,6.604) (1995.6906,6.563) (1995.6972,6.521) (1995.7005,6.455) (1995.7055,6.505) (1995.7089,6.497) (1995.7139,6.472) (1995.7197,6.579) (1995.7255,6.596) (1995.7322,6.604) (1995.7363,6.579) (1995.7421,6.497) (1995.7488,6.455) (1995.7571,6.439) (1995.7654,6.439) (1995.7737,6.422) (1995.7779,6.306) (1995.7862,6.306) (1995.7920,6.323) (1995.7987,6.372) (1995.8054,6.339) (1995.8112,6.372) (1995.8170,6.356) (1995.8237,6.348) (1995.8303,6.273) (1995.8361,6.248) (1995.8419,6.281) (1995.8486,6.256) (1995.8528,6.290) (1995.8569,6.323) (1995.8628,6.298) (1995.8669,6.240) (1995.8736,6.290) (1995.8802,6.256) (1995.8844,6.232) (1995.8886,6.265) (1995.8944,6.248) (1995.9027,6.240) (1995.9085,6.223) (1995.9135,6.124) (1995.9168,6.025) (1995.9218,6.041) (1995.9277,6.058) (1995.9335,6.041) (1995.9401,6.066) (1995.9468,6.074) (1995.9526,6.091) (1995.9568,6.199) (1995.9610,6.157) (1995.9651,6.108) (1995.9710,6.099) (1995.9776,6.050) (1995.9835,6.033) (1995.9884,5.984) (1995.9943,5.976)
};
\end{axis}
% title
\fill[white] (39pt,385.5pt) rectangle (577.5pt,409pt);
\node[anchor=base, inner sep=0pt, text=tickgray, font=\bfseries\fontsize{22.4}{24}\selectfont] at (307.5pt,391pt) {30 Yr. T Bond Yield, DJIA Value and Price 1993 - 1995};
% 30 Year T Bond Yield box
\fill[white] (140pt,309.5pt) rectangle (337.5pt,365pt);
\node[anchor=base west, inner sep=0pt, font=\bfseries\fontsize{19}{21}\selectfont] at (148pt,342.5pt) {30 Year T Bond Yield};
\node[anchor=base west, inner sep=0pt, font=\bfseries\fontsize{19}{21}\selectfont] at (148pt,321.5pt) {RHS};
% Price
\fill[white] (344pt,192pt) rectangle (405.5pt,221.5pt);
\node[anchor=base, inner sep=0pt, text=pricebl, font=\bfseries\fontsize{19}{21}\selectfont] at (373.25pt,200pt) {Price};
% DD Value
\fill[white] (305.5pt,76pt) rectangle (401.5pt,106pt);
\node[anchor=base, inner sep=0pt, text=redl, font=\bfseries\fontsize{19}{21}\selectfont] at (353.25pt,84pt) {DD Value};
% Clinton
\fill[white] (388pt,7pt) rectangle (531.5pt,31pt);
\node[anchor=base, inner sep=0pt, text=greent, font=\bfseries\fontsize{14.4}{16}\selectfont] at (459pt,13.5pt) {Clinton 2nd Election};
\end{tikzpicture}
\end{document}
